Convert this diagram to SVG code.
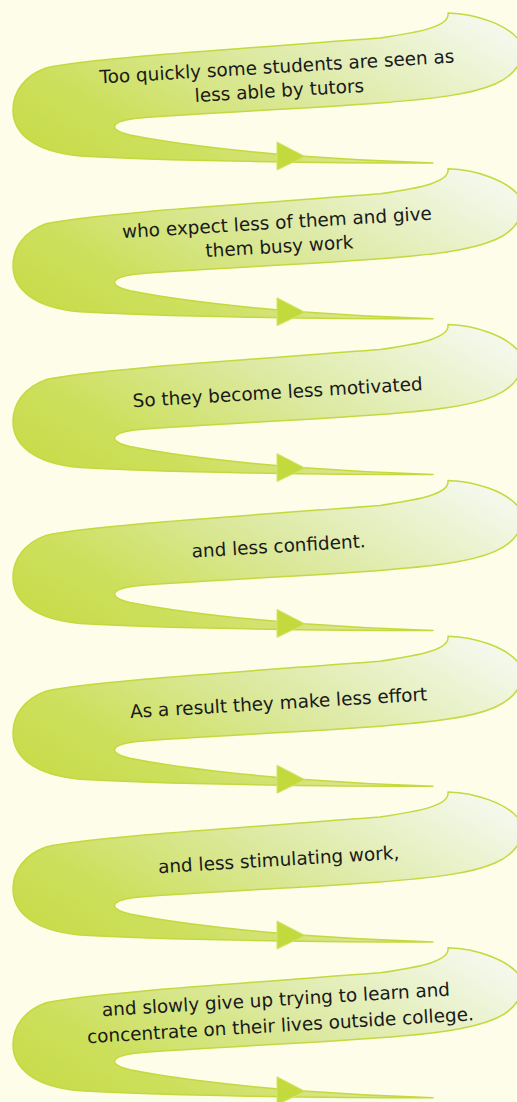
<svg xmlns="http://www.w3.org/2000/svg" xmlns:xlink="http://www.w3.org/1999/xlink" width="517" height="1102" viewBox="0 0 517 1102">
  <style>
    .band { fill: url(#bandFill); stroke: #c3d93e; stroke-width: 1.5; stroke-linejoin: round; }
    .head { fill: #c3da3c; stroke: #d2e46a; stroke-width: 1; stroke-linejoin: round; }
    .label { font-family: "DejaVu Sans", "Liberation Sans", sans-serif; font-size: 18.4px; fill: #1a1a1a; text-anchor: middle; }
  </style>
  <defs>
    <linearGradient id="bandFill" x1="0" y1="0.75" x2="1" y2="0.25">
      <stop offset="0" stop-color="#c8dc4c"/>
      <stop offset="0.2" stop-color="#cde05e"/>
      <stop offset="0.55" stop-color="#dce9a0"/>
      <stop offset="1" stop-color="#f3f8ea"/>
    </linearGradient>
    <!-- one S-shaped band: right lobe, top run, left turn, tapering lower run -->
    <path id="swoosh" d="M448,13 C476,14 506,24 519,40 C529,56 516,75 495,84 C470,95 430,99 380,103 C300,109 200,113 140,118 C108,121 108,130 130,135 C180,145 250,152 300,156 C340,159 400,162 433,163 C330,163 160,161 80,156 C35,152 13,134 13,110 C13,92 24,76 46,68 C90,58 250,48 380,38 C422,32 450,26 448,13 Z"/>
    <polygon id="arrowHead" points="277,142 305,156.5 277,170"/>
  </defs>

  <rect width="517" height="1102" fill="#fdfde9"/>

  <g id="step1" transform="translate(0,0)">
    <use xlink:href="#swoosh" class="band"/>
    <g transform="rotate(-3.4 278 85)">
      <text class="label" x="278" y="73">Too quickly some students are seen as</text>
      <text class="label" x="279" y="97">less able by tutors</text>
    </g>
  </g>

  <g id="step2" transform="translate(0,155.8)">
    <use xlink:href="#swoosh" class="band"/>
    <g transform="rotate(-3.4 278 85)">
      <text class="label" x="278" y="73">who expect less of them and give</text>
      <text class="label" x="279" y="97">them busy work</text>
    </g>
  </g>

  <g id="step3" transform="translate(0,311.6)">
    <use xlink:href="#swoosh" class="band"/>
    <text class="label" x="278" y="87" transform="rotate(-3.4 278 87)">So they become less motivated</text>
  </g>

  <g id="step4" transform="translate(0,467.4)">
    <use xlink:href="#swoosh" class="band"/>
    <text class="label" x="279" y="85" transform="rotate(-3.4 279 85)">and less confident.</text>
  </g>

  <g id="step5" transform="translate(0,623.2)">
    <use xlink:href="#swoosh" class="band"/>
    <text class="label" x="279" y="86" transform="rotate(-3.4 279 86)">As a result they make less effort</text>
  </g>

  <g id="step6" transform="translate(0,779)">
    <use xlink:href="#swoosh" class="band"/>
    <text class="label" x="279" y="87" transform="rotate(-3.4 279 87)">and less stimulating work,</text>
  </g>

  <g id="step7" transform="translate(0,934.8)">
    <use xlink:href="#swoosh" class="band"/>
    <g transform="rotate(-3.4 278 84)">
      <text class="label" x="277" y="71">and slowly give up trying to learn and</text>
      <text class="label" x="280" y="97">concentrate on their lives outside college.</text>
    </g>
  </g>

  <!-- arrowheads on the tapering lower run of each band -->
  <g id="connectors">
    <use xlink:href="#arrowHead" class="head" transform="translate(0,0)"/>
    <use xlink:href="#arrowHead" class="head" transform="translate(0,155.8)"/>
    <use xlink:href="#arrowHead" class="head" transform="translate(0,311.6)"/>
    <use xlink:href="#arrowHead" class="head" transform="translate(0,467.4)"/>
    <use xlink:href="#arrowHead" class="head" transform="translate(0,623.2)"/>
    <use xlink:href="#arrowHead" class="head" transform="translate(0,779)"/>
    <use xlink:href="#arrowHead" class="head" transform="translate(0,934.8)"/>
  </g>
</svg>
